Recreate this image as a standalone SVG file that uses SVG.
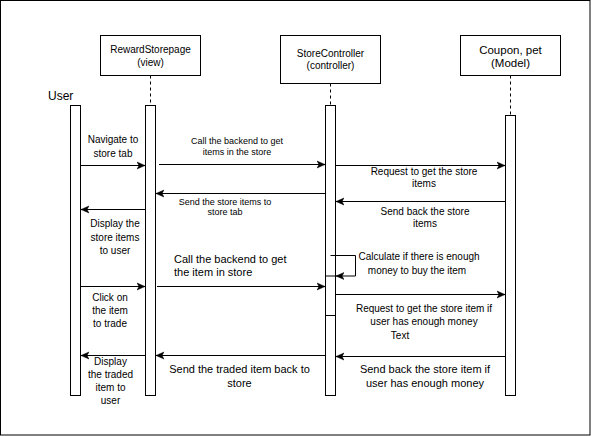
<svg xmlns="http://www.w3.org/2000/svg" width="591" height="436" viewBox="0 0 591 436">
<style>
text{font-family:"Liberation Sans",Arial,Helvetica,sans-serif;fill:#000}
.c{text-anchor:middle}
.f9{font-size:9px}
.f10{font-size:10px}
.f11{font-size:11px}
.box{fill:#fff;stroke:#000;stroke-width:1}
.life{stroke:#000;stroke-width:1;stroke-dasharray:3 3;fill:none}
.msg{stroke:#000;stroke-width:1;fill:none;marker-end:url(#arr)}
</style>
<defs>
<marker id="arr" markerUnits="userSpaceOnUse" markerWidth="9" markerHeight="9" refX="8" refY="4.5" orient="auto">
<path d="M0,1 L8,4.5 L0,8 L2,4.5 Z" fill="#000" stroke="#000" stroke-width="0.5"/>
</marker>
</defs>
<rect x="0.5" y="0.5" width="589.5" height="434.5" fill="#fff" stroke="#000" stroke-width="1"/>

<g id="user">
<text x="48" y="100" style="font-size:12px">User</text>
<rect class="box" x="70.5" y="105.5" width="10" height="290"/>
</g>

<g id="view">
<rect class="box" x="100.5" y="35.5" width="100" height="40"/>
<text class="c f10" x="150.5" y="53">RewardStorepage</text>
<text class="c f10" x="150.5" y="65.5">(view)</text>
<line class="life" x1="150.5" y1="75.5" x2="150.5" y2="105.5"/>
<rect class="box" x="145.5" y="105.5" width="10" height="290"/>
</g>

<g id="controller">
<rect class="box" x="280.5" y="35.5" width="100" height="48"/>
<text class="c f10" x="330.5" y="57">StoreController</text>
<text class="c f10" x="330.5" y="68.5">(controller)</text>
<line class="life" x1="330.5" y1="83.5" x2="330.5" y2="105.5"/>
<rect class="box" x="325.5" y="105.5" width="10" height="290"/>
<rect class="box" x="325.5" y="276" width="10" height="39.5"/>
</g>

<g id="model">
<rect class="box" x="460.5" y="35.5" width="100" height="40"/>
<text class="c" x="510.5" y="54" style="font-size:11.5px">Coupon, pet</text>
<text class="c" x="510.5" y="66.5" style="font-size:11.5px">(Model)</text>
<line class="life" x1="510.5" y1="75.5" x2="510.5" y2="115.5"/>
<rect class="box" x="505.5" y="115.5" width="10" height="280"/>
</g>

<g id="connectors">
<line class="msg" x1="80.5" y1="165.5" x2="145" y2="165.5"/>
<line class="msg" x1="159" y1="164.5" x2="325" y2="164.5"/>
<line class="msg" x1="335.5" y1="165.5" x2="505" y2="165.5"/>
<line class="msg" x1="505.5" y1="201.5" x2="336" y2="201.5"/>
<line class="msg" x1="325.5" y1="193.5" x2="156" y2="193.5"/>
<line class="msg" x1="145.5" y1="209.5" x2="81" y2="209.5"/>
<path class="msg" d="M330.5,255.5 H355.5 V276 H336"/>
<line class="msg" x1="157" y1="286.5" x2="325" y2="286.5"/>
<line class="msg" x1="80.5" y1="286.5" x2="145" y2="286.5"/>
<line class="msg" x1="335.5" y1="294.5" x2="505" y2="294.5"/>
<line class="msg" x1="505.5" y1="356.5" x2="336" y2="356.5"/>
<line class="msg" x1="325.5" y1="355.5" x2="156" y2="355.5"/>
<line class="msg" x1="145.5" y1="355.5" x2="81" y2="355.5"/>
</g>

<g id="labels">
<text class="c f10" x="113" y="142.5">Navigate to</text>
<text class="c f10" x="113" y="156.5">store tab</text>
<text class="c f9" x="237" y="144">Call the backend to get</text>
<text class="c f9" x="237" y="154.5">items in the store</text>
<text class="c f10" x="424" y="174.5">Request to get the store</text>
<text class="c f10" x="424" y="186.5">items</text>
<text class="c f10" x="425" y="214.5">Send back the store</text>
<text class="c f10" x="425" y="226.5">items</text>
<text class="c f9" x="225" y="204.5">Send the store items to</text>
<text class="c f9" x="225" y="214.5">store tab</text>
<text class="c f10" x="115" y="227">Display the</text>
<text class="c f10" x="115" y="240.5">store items</text>
<text class="c f10" x="115" y="253.5">to user</text>
<text class="c f10" x="419" y="259.5">Calculate if there is enough</text>
<text class="c f10" x="417" y="273.5">money to buy the item</text>
<text class="f11" x="174" y="263">Call the backend to get</text>
<text class="f11" x="174" y="276">the item in store</text>
<text class="c f10" x="110" y="301">Click on</text>
<text class="c f10" x="110" y="314">the item</text>
<text class="c f10" x="110" y="327">to trade</text>
<text class="c f10" x="424" y="311.5">Request to get the store item if</text>
<text class="c f10" x="424" y="324.5">user has enough money</text>
<text class="c f10" x="400" y="339">Text</text>
<text class="c f11" x="425" y="373">Send back the store item if</text>
<text class="c f11" x="425" y="386.5">user has enough money</text>
<text class="c f11" x="239.5" y="373">Send the traded item back to</text>
<text class="c f11" x="239.5" y="386.5">store</text>
<text class="c f10" x="110.5" y="365">Display</text>
<text class="c f10" x="110.5" y="378">the traded</text>
<text class="c f10" x="110.5" y="391">item to</text>
<text class="c f10" x="110.5" y="404">user</text>
</g>
</svg>
